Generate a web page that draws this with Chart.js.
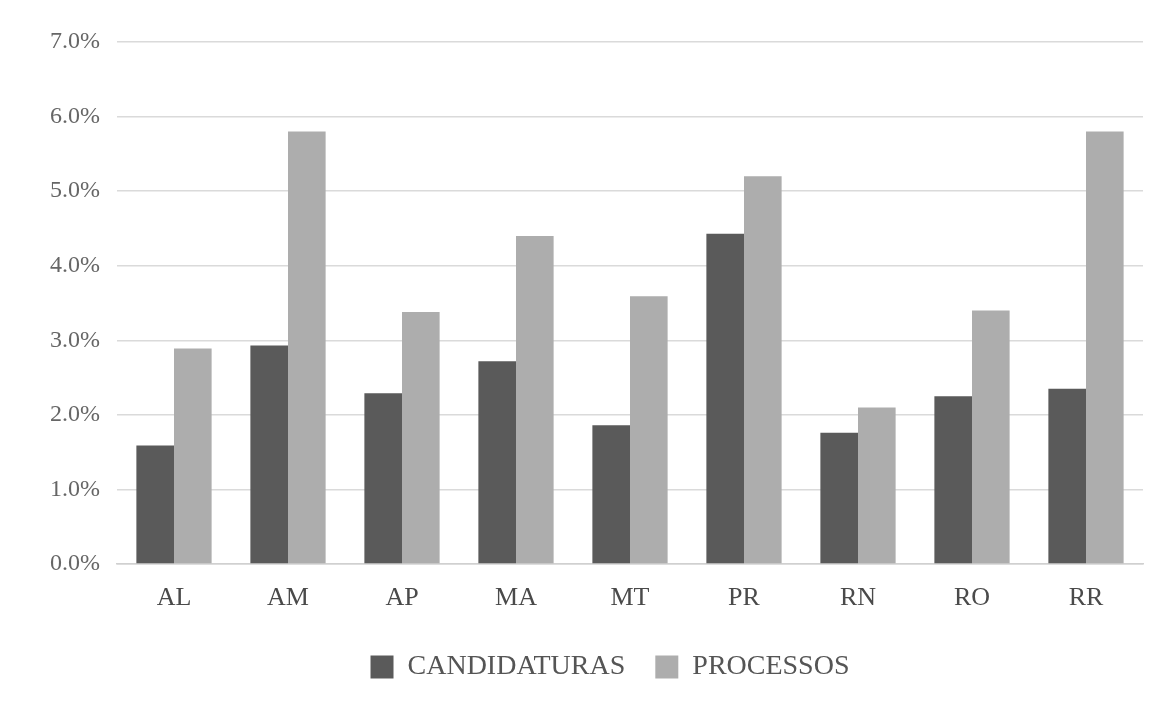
<!DOCTYPE html>
<html>
<head>
<meta charset="utf-8">
<script src="https://cdn.jsdelivr.net/npm/chart.js@4"></script>
<style>
  html, body { margin: 0; padding: 0; background: #ffffff; }
  #wrap { width: 1171px; height: 706px; position: relative; }
</style>
</head>
<body>
<div id="wrap"><canvas id="chart" width="1171" height="706"></canvas></div>
<script>
// Share of candidacies and of lawsuits per state (percent)
const states = ['AL', 'AM', 'AP', 'MA', 'MT', 'PR', 'RN', 'RO', 'RR'];
const candidaturas = [1.59, 2.93, 2.29, 2.72, 1.86, 4.43, 1.76, 2.25, 2.35];
const processos = [2.89, 5.80, 3.38, 4.40, 3.59, 5.20, 2.10, 3.40, 5.80];
const yTicks = [0, 1, 2, 3, 4, 5, 6, 7];

const serif = '"Liberation Serif", "Times New Roman", serif';

// nudge the legend a little to the left of the plot centre
const legendShift = {
  id: 'legendShift',
  afterLayout(chart) {
    const lg = chart.legend;
    if (lg) { lg.left -= 20; lg.right -= 20; }
  }
};

new Chart(document.getElementById('chart'), {
  type: 'bar',
  data: {
    labels: states,
    datasets: [
      { label: 'CANDIDATURAS', data: candidaturas, backgroundColor: '#5a5a5a' },
      { label: 'PROCESSOS', data: processos, backgroundColor: '#adadad' }
    ]
  },
  options: {
    responsive: false,
    animation: false,
    events: [],
    layout: { padding: { left: 0, right: 28, top: 42, bottom: 15 } },
    datasets: { bar: { categoryPercentage: 0.66, barPercentage: 1.0, borderWidth: 0 } },
    scales: {
      x: {
        afterFit: (s) => { s.height = 59; },
        grid: { display: false, drawTicks: false },
        border: { display: true, color: '#d0d0d0', width: 1.5 },
        ticks: { font: { family: serif, size: 26 }, color: '#4a4a4a', padding: 19 }
      },
      y: {
        min: 0, max: 7,
        afterFit: (s) => { s.width = 117; },
        afterBuildTicks: (s) => { s.ticks = yTicks.map(v => ({ value: v })); },
        grid: { color: '#dadada', lineWidth: 1.5, drawTicks: false },
        border: { display: false },
        ticks: {
          font: { family: serif, size: 24 }, color: '#666666', padding: 17,
          callback: (v) => Number(v).toFixed(1) + '%'
        }
      }
    },
    plugins: {
      tooltip: { enabled: false },
      legend: {
        position: 'bottom',
        fullSize: false,
        labels: {
          font: { family: serif, size: 28 }, color: '#555555',
          boxWidth: 23, boxHeight: 23, padding: 30
        }
      }
    }
  },
  plugins: [legendShift]
});
</script>
</body>
</html>
